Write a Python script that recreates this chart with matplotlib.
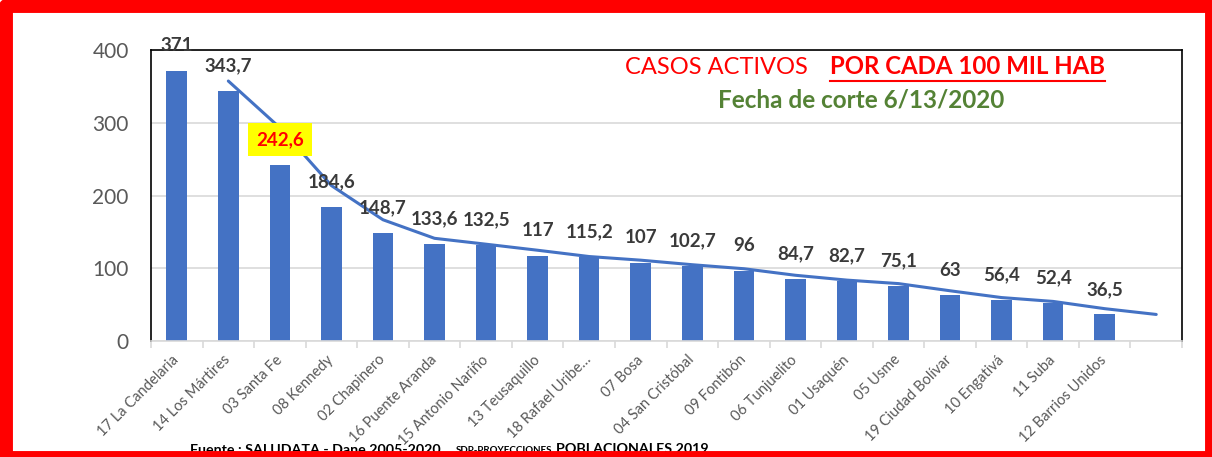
import numpy as np
import pandas as pd
import matplotlib
matplotlib.use('Agg')
import matplotlib.pyplot as plt
from matplotlib.patches import Rectangle
from matplotlib.lines import Line2D

plt.rcParams['font.family'] = ['Lato', 'DejaVu Sans']

# datos
localidades = ['17 La Candelaria', '14 Los Mártires', '03 Santa Fe', '08 Kennedy',
               '02 Chapinero', '16 Puente Aranda', '15 Antonio Nariño', '13 Teusaquillo',
               '18 Rafael Uribe…', '07 Bosa', '04 San Cristóbal', '09 Fontibón',
               '06 Tunjuelito', '01 Usaquén', '05 Usme', '19 Ciudad Bolívar',
               '10 Engativá', '11 Suba', '12 Barrios Unidos', '']
tasa = [371, 343.7, 242.6, 184.6, 148.7, 133.6, 132.5, 117, 115.2, 107,
        102.7, 96, 84.7, 82.7, 75.1, 63, 56.4, 52.4, 36.5, np.nan]
destacado = 2  # 03 Santa Fe

# media movil de 2 periodos (linea de tendencia)
s = pd.Series(tasa)
media = s.rolling(2, min_periods=1).mean()
media.iloc[0] = np.nan

W, H = 1212, 457
fig = plt.figure(figsize=(W / 100, H / 100), dpi=100)
ax = fig.add_axes([151 / W, 1 - 341 / H, (1182 - 151) / W, (341 - 50) / H])

x = np.arange(len(tasa))
azul = '#4472C4'
ax.bar(x, tasa, width=0.4, color=azul, zorder=2)
ax.plot(x, media, color=azul, lw=2.2, zorder=3, solid_capstyle='round')

ax.set_xlim(-0.5, len(tasa) - 0.5)
ax.set_ylim(0, 400)
ax.set_yticks(range(0, 401, 100))
ax.yaxis.grid(True, color='#D9D9D9', lw=1.2)
ax.set_axisbelow(True)

for lado in ['left', 'top', 'right']:
    ax.spines[lado].set_color('black')
    ax.spines[lado].set_linewidth(1.2)
ax.spines['bottom'].set_color('#D9D9D9')
ax.spines['bottom'].set_linewidth(1.2)

ax.tick_params(axis='y', length=0, pad=16, labelsize=15, labelcolor='#595959')
ax.set_xticks(x)
ax.set_xticklabels(localidades, rotation=45, ha='right', va='center',
                   rotation_mode='anchor', fontsize=10.5, color='#595959')
ax.tick_params(axis='x', which='major', length=0, pad=12)
ax.set_xticks(np.arange(-0.5, len(tasa), 1), minor=True)
ax.tick_params(axis='x', which='minor', length=5, color='#D9D9D9', width=1.2)

# etiquetas de valor
for i, v in enumerate(tasa):
    if np.isnan(v):
        continue
    txt = f'{v:g}'.replace('.', ',')
    if i == destacado:
        ax.annotate(txt, (i, v), xytext=(0, 18), textcoords='offset points',
                    ha='center', va='center', fontsize=13.5, fontweight='bold',
                    color='red', zorder=5,
                    bbox=dict(boxstyle='square,pad=0.45', fc='yellow', ec='none'))
    else:
        ax.annotate(txt, (i, v), xytext=(0, 12), textcoords='offset points',
                    ha='center', va='bottom', fontsize=13.5, fontweight='bold',
                    color='#3A3A3A', zorder=5)


def px(xp, yp):
    return xp / W, 1 - yp / H


# titulos
fig.text(*px(625, 67), 'CASOS ACTIVOS', color='red', fontsize=17, va='center')
t2 = fig.text(*px(830, 67), 'POR CADA 100 MIL HAB', color='red', fontsize=17.3,
              fontweight='bold', va='center')
fig.text(*px(718, 100), 'Fecha de corte 6/13/2020', color='#548235', fontsize=17.5,
         fontweight='bold', va='center')

# fuente (textos encadenados)
fig.canvas.draw()
partes = [('Fuente : SALUDATA - Dane 2005-2020,', 10.3, 12),
          ('SDP-PROYECCIONES', 7, 4),
          ('POBLACIONALES 2019', 10.3, 0)]
xp = 190
for texto, tam, hueco in partes:
    t = fig.text(*px(xp, 453), texto, fontsize=tam, fontweight='bold', va='baseline')
    fig.canvas.draw()
    xp = t.get_window_extent().x1 + hueco

# subrayado
bb = t2.get_window_extent()
fig.add_artist(Line2D([bb.x0 / W, bb.x1 / W], [(bb.y0 - 2) / H] * 2,
                      color='red', lw=1.5, transform=fig.transFigure))

# marco rojo
fig.add_artist(Rectangle((6 / W, -1 / H), (W - 6) / W, 452 / H, fill=False,
                         edgecolor='red', lw=10, joinstyle='round',
                         transform=fig.transFigure, zorder=10))

fig.savefig('out.png', dpi=100)
